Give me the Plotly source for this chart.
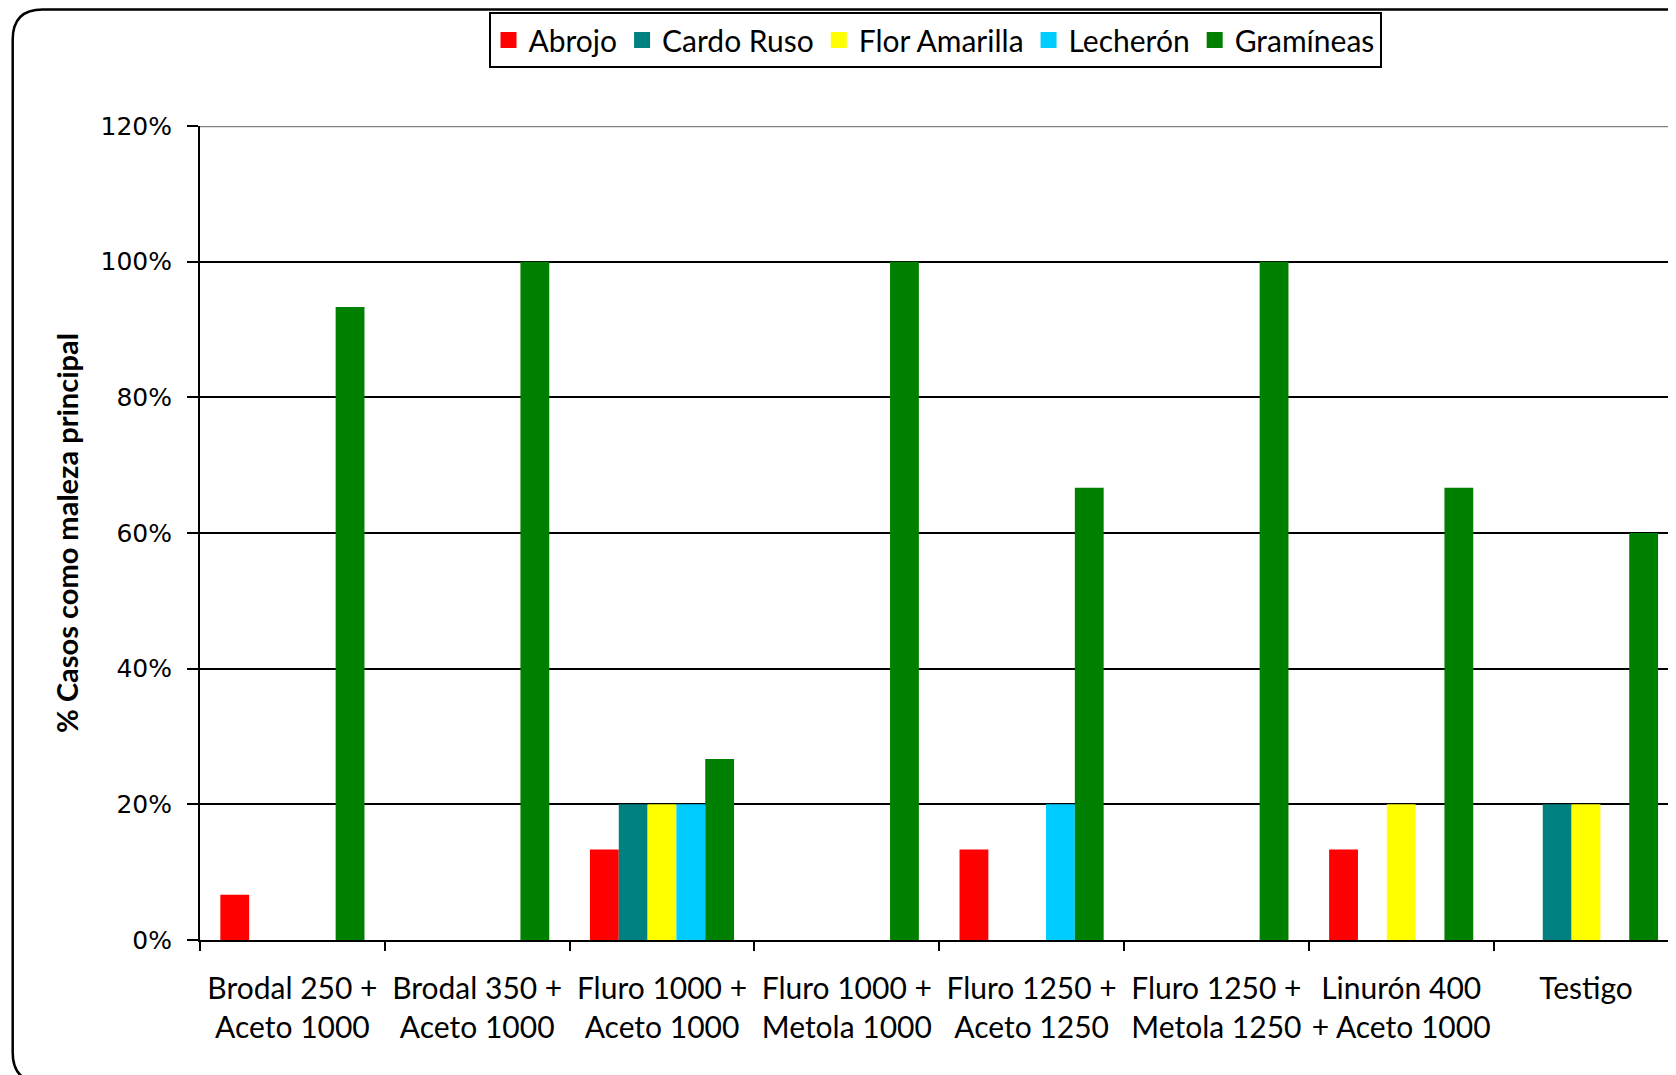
import plotly.graph_objects as go

categories = [
    "Brodal 250 +<br>Aceto 1000",
    "Brodal 350 +<br>Aceto 1000",
    "Fluro 1000 +<br>Aceto 1000",
    "Fluro 1000 +<br>Metola 1000",
    "Fluro 1250 +<br>Aceto 1250",
    "Fluro 1250 +<br>Metola 1250",
    "Linurón 400<br>+ Aceto 1000",
    "Testigo",
]
abrojo = [6.67, 0, 13.33, 0, 13.33, 0, 13.33, 0]
cardo_ruso = [0, 0, 20, 0, 0, 0, 0, 20]
flor_amarilla = [0, 0, 20, 0, 0, 0, 20, 20]
lecheron = [0, 0, 20, 0, 20, 0, 0, 0]
gramineas = [93.33, 100, 26.67, 100, 66.67, 100, 66.67, 60]

series = [
    ("Abrojo", abrojo, "#FF0000"),
    ("Cardo Ruso", cardo_ruso, "#008080"),
    ("Flor Amarilla", flor_amarilla, "#FFFF00"),
    ("Lecherón", lecheron, "#00CCFF"),
    ("Gramíneas", gramineas, "#008000"),
]
y_ticks = [0, 20, 40, 60, 80, 100, 120]
y_tick_labels = ["0%", "20%", "40%", "60%", "80%", "100%", "120%"]

fig = go.Figure()
for name, vals, color in series:
    fig.add_trace(go.Bar(x=categories, y=vals, name=name, legendgroup=name, showlegend=False,
                         marker=dict(color=color, line=dict(width=0))))
# legend entries with larger square swatches
for name, vals, color in series:
    fig.add_trace(go.Scatter(x=[None], y=[None], name=name, legendgroup=name, mode="markers",
                             marker=dict(symbol="square", size=16, color=color, line=dict(width=0))))

# page is offset by the 8px body margin; positions below are screen coords
OFF = 8
W, H = 1676, 1075
Ls, Ts, Bs = 200, 126, 939.6   # screen coords of plot left, top, bottom
L, T = Ls - OFF, Ts - OFF
B = H - (Bs - OFF)
pw = W - L
ph = Bs - Ts
cat_w = 184.8
xmax = -0.5 + pw / cat_w

def px_x(p):
    return (p - Ls) / pw

def px_y(p):
    return (Bs - p) / ph

left, top, bottom, right = px_x(12.7), px_y(9.5), px_y(1082), px_x(1700)
rx, ry = 30 / pw, 30 / ph
path = (f"M {right},{top-ry} Q {right},{top} {right-rx},{top} "
        f"L {left+rx},{top} Q {left},{top} {left},{top-ry} "
        f"L {left},{bottom+ry} Q {left},{bottom} {left+rx},{bottom} L {right},{bottom}")

fig.update_layout(
    width=W, height=H,
    margin=dict(l=L, r=0, t=T, b=B, autoexpand=False),
    paper_bgcolor="white", plot_bgcolor="white",
    barmode="group", bargap=0.22, bargroupgap=0,
    font=dict(family="Lato, sans-serif", size=26, color="black"),
    showlegend=True,
    legend=dict(orientation="h", x=px_x(935), xanchor="center", y=px_y(12), yanchor="top",
                bordercolor="black", borderwidth=2, bgcolor="white",
                font=dict(family="Lato, sans-serif", size=30), itemwidth=30,
                itemsizing="trace", tracegroupgap=0, itemclick=False, itemdoubleclick=False),
    xaxis=dict(
        type="category", categoryorder="array", categoryarray=categories,
        range=[-0.5, xmax],
        showline=True, linecolor="black", linewidth=2, ticks="outside", tickson="boundaries",
        ticklen=9, tickwidth=2, tickcolor="black", showgrid=False, zeroline=False,
        tickfont=dict(family="Lato, sans-serif", size=30), tickangle=0, automargin=False,
        ticklabelstandoff=21,
    ),
    yaxis=dict(
        range=[0, 120], tickmode="array", tickvals=y_ticks, ticktext=y_tick_labels,
        showline=True, linecolor="black", linewidth=2, ticks="outside", ticklen=11,
        tickwidth=2, tickcolor="black", showgrid=True, gridcolor="black", gridwidth=1.5,
        zeroline=False, tickfont=dict(family="DejaVu Sans, sans-serif", size=25),
        ticklabelstandoff=10, automargin=False,
        title=dict(text="<b>% Casos como maleza principal</b>",
                   font=dict(family="Lato, sans-serif", size=29), standoff=13),
    ),
    shapes=[
        dict(type="line", xref="paper", yref="y", x0=0, x1=1, y0=120, y1=120,
             line=dict(color="#808080", width=2.5), layer="above"),
        dict(type="path", xref="paper", yref="paper", path=path,
             line=dict(color="black", width=2.5), layer="above"),
    ],
)

fig.write_html("out.html")
